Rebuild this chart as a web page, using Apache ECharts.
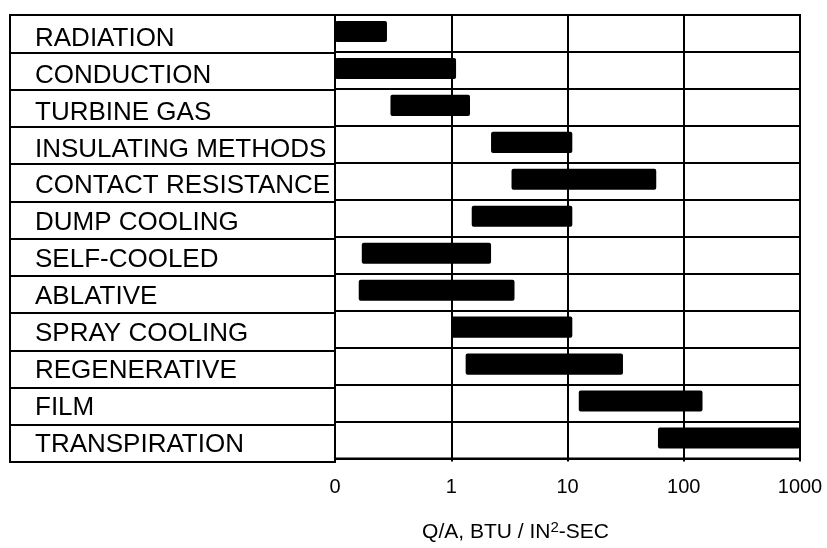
<!DOCTYPE html>
<html>
<head>
<meta charset="UTF-8">
<title></title>
<style>
  html, body { margin: 0; padding: 0; background: #fff; }
  #chart { width: 827px; height: 548px; }
</style>
</head>
<body>
<div id="chart"></div>
<script src="https://cdn.jsdelivr.net/npm/echarts@6/dist/echarts.min.js"></script>
<script>
// cooling methods, top to bottom
var categories = ['RADIATION', 'CONDUCTION', 'TURBINE GAS', 'INSULATING METHODS',
  'CONTACT RESISTANCE', 'DUMP COOLING', 'SELF-COOLED', 'ABLATIVE',
  'SPRAY COOLING', 'REGENERATIVE', 'FILM', 'TRANSPIRATION'];
// Q/A range for each method (BTU / in^2-sec)
var lowVals  = [0.1, 0.1, 0.3, 2.2, 3.3, 1.5, 0.17, 0.16, 1.0, 1.33, 12.5, 60];
var highVals = [0.28, 1.1, 1.45, 11, 58, 11, 2.2, 3.5, 11, 30, 145, 1000];
var tickLabels = {'0.1': '0', '1': '1', '10': '10', '100': '100', '1000': '1000'};

var font = '"Liberation Sans", Arial, Helvetica, sans-serif';

var data = [];
for (var i = 0; i < categories.length; i++) {
  data.push([i, lowVals[i], highVals[i]]);
}

function renderBar(params, api) {
  var c = api.value(0);
  var p0 = api.coord([api.value(1), c]);
  var p1 = api.coord([api.value(2), c]);
  var h = api.size([1, 1])[1] * 0.57;
  return {
    type: 'rect',
    shape: { x: p0[0], y: p0[1] - h / 2 - 2, width: p1[0] - p0[0], height: h, r: 2 },
    style: { fill: '#000' }
  };
}

var chart = echarts.init(document.getElementById('chart'));
chart.setOption({
  animation: false,
  textStyle: { fontFamily: font, color: '#000' },
  grid: [
    { left: 335, right: 27, top: 15, bottom: 86, show: true, borderColor: '#000', borderWidth: 2 },
    { left: 10, width: 325, top: 15, bottom: 86, show: true, borderColor: '#000', borderWidth: 2 }
  ],
  xAxis: [
    {
      type: 'log', logBase: 10, min: 0.1, max: 1000, gridIndex: 0,
      axisLine: { show: true, lineStyle: { color: '#000', width: 2 } },
      axisTick: { show: true, length: 3, lineStyle: { color: '#000', width: 2 } },
      splitLine: { show: true, lineStyle: { color: '#000', width: 2 } },
      axisLabel: {
        color: '#000', fontSize: 20, fontFamily: font, margin: 19,
        formatter: function (v) {
          var k = String(+v.toPrecision(6));
          return tickLabels[k] !== undefined ? tickLabels[k] : '';
        }
      },
      name: 'Q/A, BTU / IN{sup|2}-SEC',
      nameLocation: 'middle',
      nameGap: 62,
      nameTextStyle: {
        color: '#000', fontSize: 21, fontFamily: font, padding: [0, 104, 0, 0],
        rich: { sup: { fontSize: 15, fontFamily: font, color: '#000', verticalAlign: 'top', padding: [0, 0, 9, 0] } }
      }
    },
    { type: 'value', gridIndex: 1, show: false }
  ],
  yAxis: [
    {
      type: 'category', data: categories, inverse: true, gridIndex: 0,
      axisLine: { show: false }, axisTick: { show: false },
      splitLine: { show: true, lineStyle: { color: '#000', width: 2 } },
      axisLabel: {
        color: '#000', fontSize: 26, fontFamily: font, align: 'left',
        margin: 300, verticalAlign: 'top', lineHeight: 10
      }
    },
    {
      type: 'category', data: categories, inverse: true, gridIndex: 1,
      axisLine: { show: false }, axisTick: { show: false }, axisLabel: { show: false },
      splitLine: { show: true, lineStyle: { color: '#000', width: 2 } }
    }
  ],
  series: [{
    type: 'custom',
    xAxisIndex: 0, yAxisIndex: 0,
    renderItem: renderBar,
    encode: { x: [1, 2], y: 0 },
    data: data
  }]
});
</script>
</body>
</html>
